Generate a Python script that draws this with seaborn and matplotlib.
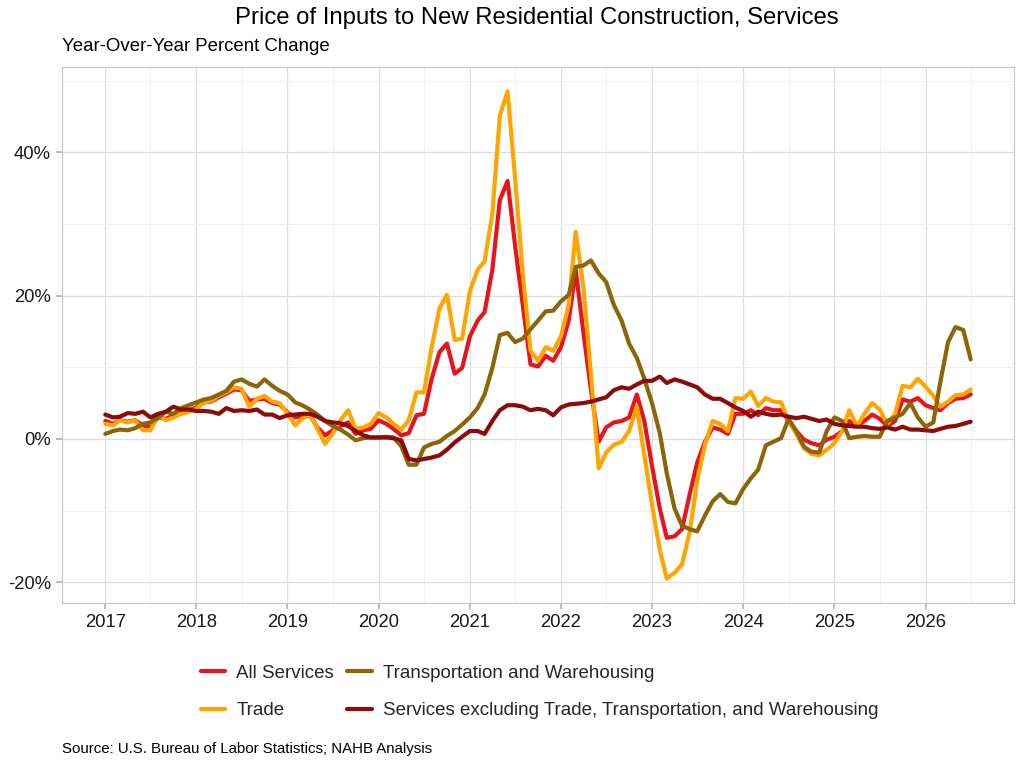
"""
Price of Inputs to New Residential Construction, Services - YoY % change
"""

import matplotlib
matplotlib.use("Agg")
import matplotlib.pyplot as plt
import matplotlib.dates as mdates
from matplotlib.ticker import FuncFormatter, MultipleLocator
import numpy as np
import pandas as pd
import seaborn as sns

dates = pd.date_range("2017-01-01", periods=115, freq="MS")

all_services = [
    2.5, 2.1, 2.6, 2.4, 2.6, 1.9, 1.6, 3.0, 2.8, 3.3, 3.7, 4.0,
    4.4, 5.1, 5.2, 5.8, 6.3, 6.9, 6.8, 5.3, 5.5, 5.6, 5.0, 4.8,
    3.7, 3.0, 3.2, 3.3, 1.6, 0.5, 1.2, 1.8, 2.3, 0.7, 1.2, 1.4,
    2.6, 2.1, 1.4, 0.5, 0.8, 3.3, 3.5, 8.4, 12.1, 13.3, 9.1, 9.9,
    14.3, 16.5, 17.7, 23.6, 33.3, 36.0, 27.0, 18.7, 10.4, 10.1, 11.6, 10.9,
    12.8, 16.5, 23.6, 14.8, 6.9, -0.4, 1.6, 2.3, 2.5, 3.0, 6.2, 2.5,
    -3.8, -9.7, -13.8, -13.6, -12.6, -7.7, -3.3, -0.4, 1.6, 1.3, 0.7, 3.5,
    3.5, 4.0, 3.3, 4.3, 4.0, 4.0, 2.5, 1.1, -0.1, -0.6, -0.9, -0.1,
    0.3, 1.1, 2.5, 1.8, 2.5, 3.4, 2.8, 1.8, 2.5, 5.5, 5.2, 5.7,
    4.7, 4.3, 4.0, 5.0, 5.6, 5.7, 6.2,
]

trade = [
    2.1, 1.9, 2.6, 2.3, 2.6, 1.2, 1.2, 3.3, 2.6, 3.0, 3.5, 3.8,
    4.2, 5.1, 5.3, 6.0, 6.5, 7.2, 7.0, 4.5, 5.6, 6.0, 5.2, 5.0,
    3.5, 1.9, 2.8, 3.5, 1.4, -0.7, 0.7, 2.6, 4.0, 1.4, 1.6, 2.1,
    3.6, 3.0, 2.1, 1.3, 2.6, 6.5, 6.5, 12.8, 18.2, 20.1, 13.8, 14.0,
    20.6, 23.6, 24.8, 31.4, 45.1, 48.5, 36.5, 23.0, 12.3, 10.9, 12.8, 12.3,
    14.3, 18.7, 28.9, 21.1, 9.1, -4.1, -1.9, -0.8, -0.4, 1.1, 4.5, -2.3,
    -9.2, -15.5, -19.5, -18.7, -17.5, -13.0, -5.8, -0.8, 2.5, 2.1, 1.1, 5.7,
    5.6, 6.6, 4.6, 5.7, 5.2, 5.1, 2.5, 0.7, -1.3, -2.1, -2.3, -1.5,
    -0.6, 1.1, 4.0, 1.8, 3.5, 5.0, 4.1, 2.1, 3.5, 7.4, 7.2, 8.4,
    7.3, 6.0, 4.5, 5.2, 6.1, 6.2, 6.9,
]

transport = [
    0.7, 1.1, 1.3, 1.2, 1.5, 2.1, 2.3, 3.0, 3.8, 3.5, 4.3, 4.7,
    5.1, 5.5, 5.7, 6.2, 6.7, 8.0, 8.3, 7.7, 7.3, 8.3, 7.4, 6.7,
    6.2, 5.1, 4.7, 4.1, 3.4, 2.5, 1.8, 1.3, 0.6, -0.2, 0.1, 0.2,
    0.2, 0.3, 0.2, -1.0, -3.6, -3.6, -1.2, -0.7, -0.4, 0.4, 1.1, 2.0,
    3.0, 4.3, 6.2, 9.9, 14.5, 14.8, 13.5, 14.0, 15.3, 16.5, 17.8, 17.9,
    19.2, 20.1, 24.0, 24.2, 24.9, 23.1, 21.9, 18.7, 16.5, 13.3, 11.3, 8.4,
    5.0, 0.8, -4.8, -9.7, -12.1, -12.6, -12.9, -10.7, -8.7, -7.7, -8.8, -9.0,
    -7.0, -5.5, -4.3, -0.9, -0.4, 0.1, 2.8, 1.1, -1.1, -1.8, -1.9, 1.1,
    3.0, 2.5, 0.1, 0.3, 0.4, 0.3, 0.3, 2.5, 3.0, 3.5, 5.0, 3.0,
    1.7, 2.3, 7.9, 13.5, 15.6, 15.2, 11.1,
]

services_ex = [
    3.4, 3.0, 3.1, 3.6, 3.5, 3.8, 3.0, 3.5, 3.8, 4.5, 4.1, 4.1,
    3.9, 3.9, 3.8, 3.5, 4.3, 3.9, 4.0, 3.9, 4.1, 3.4, 3.4, 2.9,
    3.3, 3.4, 3.5, 3.5, 3.1, 2.5, 2.3, 2.2, 1.8, 1.1, 0.5, 0.2,
    0.2, 0.2, 0.1, -0.2, -2.8, -3.0, -2.8, -2.6, -2.3, -1.5, -0.5, 0.3,
    1.1, 1.1, 0.7, 2.5, 4.0, 4.7, 4.7, 4.5, 4.0, 4.2, 4.0, 3.3,
    4.4, 4.8, 4.9, 5.0, 5.2, 5.5, 5.8, 6.8, 7.2, 7.0, 7.6, 8.1,
    8.1, 8.7, 7.8, 8.3, 8.0, 7.6, 7.2, 6.2, 5.6, 5.6, 5.0, 4.4,
    3.9, 3.1, 3.8, 3.5, 3.3, 3.4, 3.1, 2.9, 3.1, 2.8, 2.5, 2.7,
    2.1, 1.9, 1.8, 1.7, 1.7, 1.5, 1.4, 1.6, 1.3, 1.7, 1.3, 1.3,
    1.2, 1.1, 1.4, 1.7, 1.8, 2.1, 2.4,
]

series_names = [
    "All Services",
    "Trade",
    "Transportation and Warehousing",
    "Services excluding Trade, Transportation, and Warehousing",
]
series_colors = ["#E8141C", "#FFA500", "#8B6508", "#8B0A0A"]

df = pd.concat(
    [
        pd.DataFrame({"date": dates, "value": vals, "series": name})
        for name, vals in zip(series_names, [all_services, trade, transport, services_ex])
    ],
    ignore_index=True,
)

sns.set_theme(style="white")
plt.rcParams["font.family"] = ["Liberation Sans", "DejaVu Sans"]

fig = plt.figure(figsize=(10.24, 7.68), dpi=100)
ax = fig.add_axes([62 / 1024, 1 - 603 / 768, (1014 - 62) / 1024, (603 - 67) / 768])

sns.lineplot(
    data=df, x="date", y="value", hue="series",
    hue_order=series_names, palette=series_colors,
    linewidth=3.0, ax=ax,
)

# ggplot-like 5% expansion
span = dates[-1] - dates[0]
ax.set_xlim(dates[0] - span * 0.05, dates[-1] + span * 0.05)
vmin, vmax = df["value"].min(), df["value"].max()
pad = (vmax - vmin) * 0.05
ax.set_ylim(vmin - pad, vmax + pad)

ax.xaxis.set_major_locator(mdates.YearLocator())
ax.xaxis.set_major_formatter(mdates.DateFormatter("%Y"))
ax.xaxis.set_minor_locator(mdates.MonthLocator(bymonth=7))
ax.yaxis.set_major_locator(MultipleLocator(20))
ax.yaxis.set_minor_locator(MultipleLocator(10))
ax.yaxis.set_major_formatter(FuncFormatter(lambda v, p: f"{v:.0f}%"))

ax.grid(which="major", color="#DDDDDD", linewidth=0.9)
ax.grid(which="minor", color="#ECECEC", linewidth=0.6)
ax.set_axisbelow(True)
for sp in ax.spines.values():
    sp.set_color("#C8C8C8")
    sp.set_linewidth(0.9)

ax.tick_params(axis="both", which="major", length=4, color="#B3B3B3",
               labelsize=13.3, labelcolor="#1A1A1A", pad=4, bottom=True, left=True)
ax.tick_params(axis="both", which="minor", length=0)
ax.set_xlabel("")
ax.set_ylabel("")

handles, labels = ax.get_legend_handles_labels()
ax.get_legend().remove()
leg = fig.legend(
    handles, labels, loc="center", bbox_to_anchor=(0.527, 0.099), ncol=2,
    frameon=False, fontsize=13.5, handlelength=1.3, handletextpad=0.6,
    columnspacing=0.7, labelspacing=1.1,
)
for line in leg.get_lines():
    line.set_linewidth(3.0)

fig.text(0.524, 0.977, "Price of Inputs to New Residential Construction, Services",
         ha="center", va="center", fontsize=17.2, color="#000000")
fig.text(62 / 1024, 0.939, "Year-Over-Year Percent Change",
         ha="left", va="center", fontsize=13.4, color="#000000")
fig.text(62 / 1024, 0.025, "Source: U.S. Bureau of Labor Statistics; NAHB Analysis",
         ha="left", va="center", fontsize=10.8, color="#000000")

fig.savefig("out.png", dpi=100)
plt.close(fig)
